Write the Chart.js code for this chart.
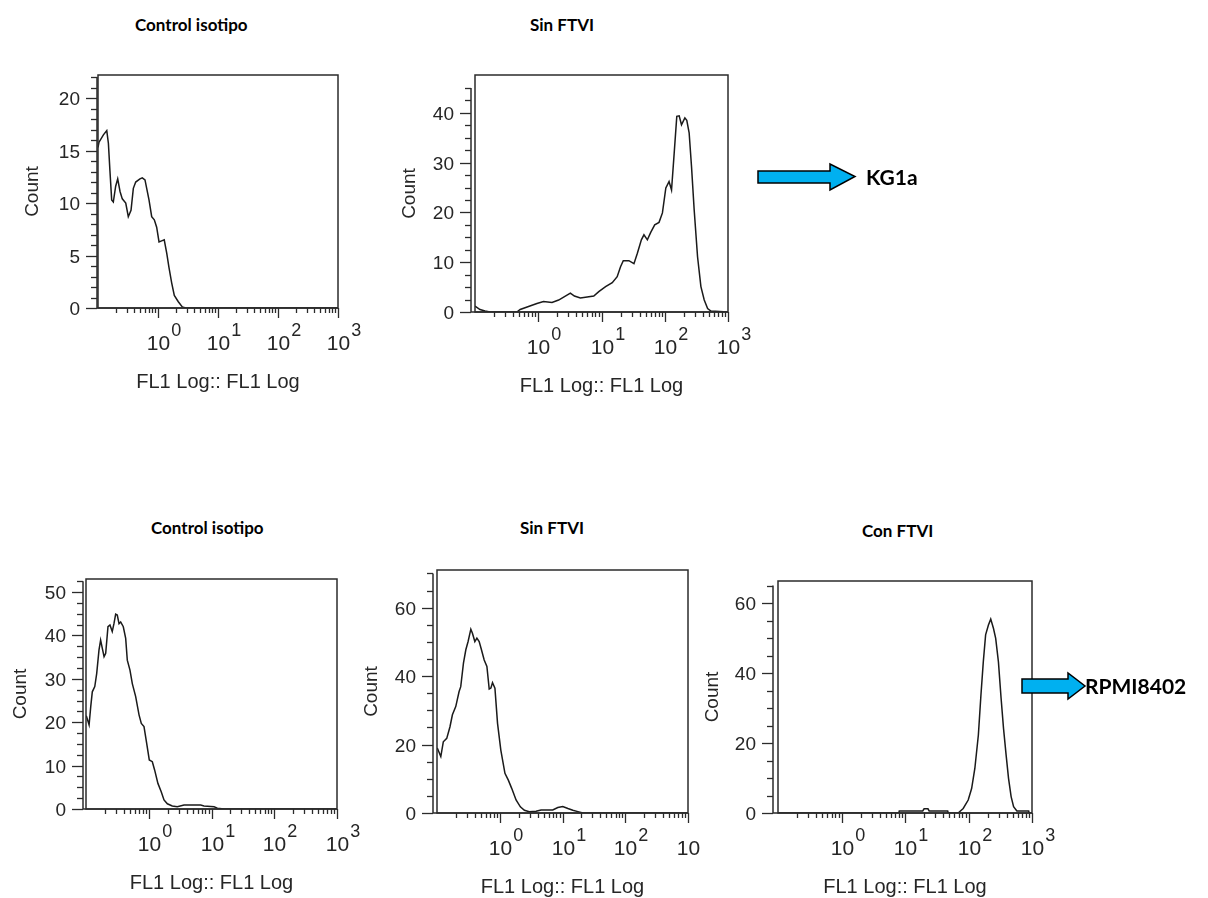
<!DOCTYPE html>
<html>
<head>
<meta charset="utf-8">
<script src="https://cdn.jsdelivr.net/npm/chart.js@4/dist/chart.umd.min.js"></script>
<style>
  body { margin: 0; background: #fff; }
  #hoja { position: relative; width: 1208px; height: 898px; overflow: hidden; background: #fff; }
  #hoja canvas { position: absolute; }
  .titulo { position: absolute; font: bold 17px Lato, "Open Sans", sans-serif; color: #000; line-height: 20px; white-space: nowrap; }
  .linea { position: absolute; font: bold 21px Lato, "Open Sans", sans-serif; color: #000; line-height: 24px; white-space: nowrap; }
  .flecha { position: absolute; }
</style>
</head>
<body>
<div id="hoja">
  <div class="titulo" style="left:135px; top:15px;">Control isotipo</div>
  <div class="titulo" style="left:530px; top:15px;">Sin FTVI</div>
  <div class="titulo" style="left:151px; top:518px;">Control isotipo</div>
  <div class="titulo" style="left:520px; top:518px;">Sin FTVI</div>
  <div class="titulo" style="left:862px; top:521px;">Con FTVI</div>

  <canvas id="kgIso" width="370" height="350" style="left:0px; top:50px;"></canvas>
  <canvas id="kgSin" width="380" height="350" style="left:380px; top:50px;"></canvas>
  <canvas id="rpmiIso" width="360" height="348" style="left:0px; top:550px;"></canvas>
  <canvas id="rpmiSin" width="350" height="348" style="left:350px; top:550px;"></canvas>
  <canvas id="rpmiCon" width="360" height="348" style="left:700px; top:550px;"></canvas>

  <svg class="flecha" width="105" height="34" style="left:755px; top:160px;">
    <polygon points="3,11 75,11 75,4 100,16.5 75,30 75,23 3,23" fill="#00b0f0" stroke="#000" stroke-width="1.5"/>
  </svg>
  <div class="linea" style="left:866px; top:165px;">KG1a</div>

  <svg class="flecha" width="72" height="36" style="left:1018px; top:668px;">
    <polygon points="4,11 50,11 50,5 67,18 50,31 50,25 4,25" fill="#00b0f0" stroke="#000" stroke-width="1.5"/>
  </svg>
  <div class="linea" style="left:1085px; top:674px;">RPMI8402</div>
</div>

<script>
// KG1a, control isotipo (FL1, cuentas)
const kgIsoFL1 = [0.1, 0.104, 0.123, 0.14, 0.149, 0.158, 0.169, 0.18, 0.197, 0.213,
  0.233, 0.254, 0.29, 0.32, 0.355, 0.388, 0.425, 0.5, 0.547, 0.607,
  0.648, 0.708, 0.785, 0.868, 0.95, 1.04, 1.15, 1.27, 1.4, 1.52,
  1.69, 1.87, 2.18, 2.54, 2.9, 1000];
const kgIsoCount = [15.3, 15.8, 16.5, 16.9, 15.7, 13.1, 10.3, 10.1, 11.6, 12.3,
  11.1, 10.4, 10.0, 8.7, 9.3, 11.4, 12.0, 12.3, 12.4, 12.2,
  11.4, 10.3, 8.7, 8.4, 7.7, 6.3, 6.4, 6.5, 5.2, 3.9,
  2.4, 1.2, 0.6, 0.1, 0, 0];

// KG1a, sin FTVI
const kgSinFL1 = [0.1, 0.12, 0.144, 0.173, 0.459, 0.518, 0.702, 0.953, 1.21, 1.65,
  2.1, 2.68, 3.22, 3.73, 4.64, 5.93, 7.55, 9.06, 11.6, 14.8,
  17.7, 20, 22.1, 27.1, 32.6, 36.9, 42.7, 46.9, 53.1, 60,
  69.4, 81.2, 91.9, 104, 117, 128, 141, 155, 169, 184,
  208, 223, 243, 265, 292, 330, 373, 421, 476, 537, 1000];
const kgSinCount = [1.2, 0.5, 0.2, 0, 0, 0.5, 1.1, 1.7, 2.1, 1.9,
  2.4, 3.2, 3.8, 3.2, 2.8, 3.0, 3.2, 4.1, 5.1, 5.9,
  7.1, 9.1, 10.3, 10.3, 9.7, 11.8, 14.5, 15.5, 14.5, 16.0,
  17.5, 18.0, 19.9, 24.9, 26.2, 24.5, 31.9, 39.3, 39.4, 37.6,
  39.0, 38.5, 36.0, 29.2, 20.5, 11.1, 5.1, 2.4, 0.7, 0.2, 0];

// RPMI8402, control isotipo
const rpmiIsoFL1 = [0.101, 0.112, 0.119, 0.126, 0.138, 0.148, 0.161, 0.171, 0.182, 0.194,
  0.206, 0.224, 0.241, 0.262, 0.279, 0.297, 0.315, 0.336, 0.357, 0.393,
  0.429, 0.455, 0.502, 0.547, 0.619, 0.70, 0.761, 0.84, 0.927, 1.02,
  1.14, 1.24, 1.40, 1.58, 1.75, 1.98, 2.37, 2.85, 3.65, 6.73,
  7.59, 11.0, 12.4, 15.8, 1000];
const rpmiIsoCount = [21.5, 19.4, 23.6, 27.0, 28.2, 31.2, 36.6, 38.9, 37.0, 35.1,
  35.9, 42.0, 42.4, 40.9, 42.7, 44.9, 44.7, 42.7, 43.1, 42.0,
  39.3, 34.3, 32.0, 28.9, 25.9, 21.7, 19.7, 19.0, 15.1, 11.3,
  10.9, 9.0, 5.9, 4.0, 2.1, 1.2, 0.7, 0.5, 0.9, 0.9,
  0.7, 0.5, 0.2, 0, 0];

// RPMI8402, sin FTVI
const rpmiSinFL1 = [0.101, 0.115, 0.126, 0.143, 0.161, 0.176, 0.199, 0.225, 0.239, 0.264,
  0.288, 0.313, 0.346, 0.367, 0.401, 0.432, 0.47, 0.511, 0.565, 0.624,
  0.679, 0.723, 0.767, 0.838, 0.922, 1.04, 1.21, 1.37, 1.55, 1.82,
  2.13, 2.47, 2.96, 3.79, 4.56, 7.0, 8.41, 10.1, 12.2, 14.6,
  17.6, 21.1, 1000];
const rpmiSinCount = [19, 16.5, 20.8, 21.8, 25.2, 28.7, 31.1, 35.5, 36.9, 43.8,
  47.7, 50.1, 53.7, 52.5, 50.1, 51.1, 50.1, 47.7, 44.7, 42.8,
  36.2, 36.5, 38.1, 36.5, 26.2, 18.4, 11.6, 9.6, 7.2, 3.8,
  1.8, 0.8, 0.4, 0.5, 0.9, 0.9, 1.6, 1.9, 1.3, 0.8,
  0.4, 0, 0];

// RPMI8402, con FTVI
const rpmiConFL1 = [0.1, 8.0, 8.13, 19, 20, 23, 24, 47, 48, 68.7,
  82.5, 98.9, 112, 126, 143, 157, 171, 186, 206, 224,
  247, 268, 296, 326, 356, 391, 427, 469, 513, 578,
  887, 900, 1000];
const rpmiConCount = [0, 0, 0.6, 0.6, 1.2, 1.2, 0.6, 0.6, 0, 0,
  1.3, 3.7, 7.0, 12.8, 22.3, 33.7, 43.2, 50.9, 53.7, 55.4,
  52.8, 49.9, 43.2, 32.8, 24.2, 16.6, 9.9, 4.7, 1.8, 0.6,
  0.6, 0, 0];

// marcas del eje logaritmico
const decadas = [0.1, 1, 10, 100];
const exponentes = [0, 1, 2, 3];

const fuente = '"Liberation Sans", Arial, sans-serif';
const gris = '#262626';

// Ejes estilo citometro: marco, eje Y separado, marcas menores y etiquetas 10^n
const ejesFlow = {
  id: 'ejesFlow',
  afterDatasetsDraw(chart, args, o) {
    const { ctx, chartArea: a } = chart;
    const x = chart.scales.x, y = chart.scales.y;
    ctx.save();
    ctx.strokeStyle = '#2b2b2b';
    ctx.fillStyle = gris;
    ctx.lineWidth = 1.5;
    ctx.strokeRect(a.left, a.top, a.right - a.left, a.bottom - a.top);

    const ax = a.left - o.gap;
    ctx.beginPath();
    ctx.moveTo(ax, y.getPixelForValue(o.yTop));
    ctx.lineTo(ax, a.bottom);
    ctx.lineTo(a.right, a.bottom);
    ctx.stroke();

    // eje Y
    ctx.lineWidth = 1.3;
    ctx.font = '19px ' + fuente;
    ctx.textAlign = 'right';
    ctx.textBaseline = 'middle';
    const n = Math.round(o.yTop / o.yMinor);
    for (let i = 0; i <= n; i++) {
      const v = i * o.yMinor;
      const py = Math.round(y.getPixelForValue(v)) + 0.5;
      const mayor = Math.abs(v / o.yMajor - Math.round(v / o.yMajor)) < 1e-6;
      const len = mayor ? 11 : 6;
      ctx.beginPath();
      ctx.moveTo(ax - len, py);
      ctx.lineTo(ax, py);
      ctx.stroke();
      if (mayor) ctx.fillText(String(v), ax - len - 6, py + 1);
    }

    // eje X logaritmico
    decadas.forEach(d => {
      for (let k = 2; k <= 9; k++) {
        const px = Math.round(x.getPixelForValue(k * d)) + 0.5;
        ctx.beginPath();
        ctx.moveTo(px, a.bottom);
        ctx.lineTo(px, a.bottom + 5);
        ctx.stroke();
      }
    });
    ctx.textAlign = 'left';
    ctx.textBaseline = 'alphabetic';
    exponentes.forEach(e => {
      const v = Math.pow(10, e);
      const px = Math.round(x.getPixelForValue(v)) + 0.5;
      ctx.beginPath();
      ctx.moveTo(px, a.bottom);
      ctx.lineTo(px, a.bottom + 10);
      ctx.stroke();
      ctx.font = '21px ' + fuente;
      const w = ctx.measureText('10').width;
      ctx.fillText('10', px - w / 2, a.bottom + 42);
      ctx.font = '18px ' + fuente;
      ctx.fillText(String(e), px + w / 2 + 1, a.bottom + 28);
    });

    // titulos de ejes
    ctx.font = '20px ' + fuente;
    ctx.textAlign = 'center';
    ctx.fillText('FL1 Log:: FL1 Log', (a.left + a.right) / 2, a.bottom + 80);
    ctx.font = '19px ' + fuente;
    ctx.translate(a.left - 60, (a.top + a.bottom) / 2);
    ctx.rotate(-Math.PI / 2);
    ctx.fillText('Count', 0, 0);
    ctx.restore();
  }
};

function histograma(id, fl1, cuentas, cfg) {
  const puntos = fl1.map((v, i) => ({ x: v, y: cuentas[i] }));
  new Chart(document.getElementById(id), {
    type: 'line',
    data: {
      datasets: [{
        data: puntos,
        borderColor: '#1a1a1a',
        borderWidth: 1.5,
        pointRadius: 0,
        tension: 0,
        fill: false
      }]
    },
    options: {
      responsive: false,
      animation: false,
      layout: { padding: cfg.padding },
      plugins: {
        legend: { display: false },
        tooltip: { enabled: false },
        ejesFlow: cfg
      },
      scales: {
        x: { type: 'logarithmic', min: 0.1, max: 1000, display: false },
        y: { type: 'linear', min: 0, max: cfg.yMax, display: false }
      }
    },
    plugins: [ejesFlow]
  });
}

histograma('kgIso', kgIsoFL1, kgIsoCount,
  { padding: { left: 98, top: 25, right: 32, bottom: 92 }, yMax: 22.2, yTop: 22, yMajor: 5, yMinor: 1, gap: 1 });
histograma('kgSin', kgSinFL1, kgSinCount,
  { padding: { left: 95, top: 25, right: 32, bottom: 88 }, yMax: 47.6, yTop: 45, yMajor: 10, yMinor: 2.5, gap: 4 });
histograma('rpmiIso', rpmiIsoFL1, rpmiIsoCount,
  { padding: { left: 86, top: 29, right: 23, bottom: 89 }, yMax: 53, yTop: 52.5, yMajor: 10, yMinor: 2.5, gap: 3 });
histograma('rpmiSin', rpmiSinFL1, rpmiSinCount,
  { padding: { left: 87, top: 20, right: 12, bottom: 85 }, yMax: 71, yTop: 70, yMajor: 20, yMinor: 5, gap: 4 });
histograma('rpmiCon', rpmiConFL1, rpmiConCount,
  { padding: { left: 78, top: 31, right: 28, bottom: 85 }, yMax: 66.3, yTop: 65, yMajor: 20, yMinor: 5, gap: 5 });
</script>
</body>
</html>
